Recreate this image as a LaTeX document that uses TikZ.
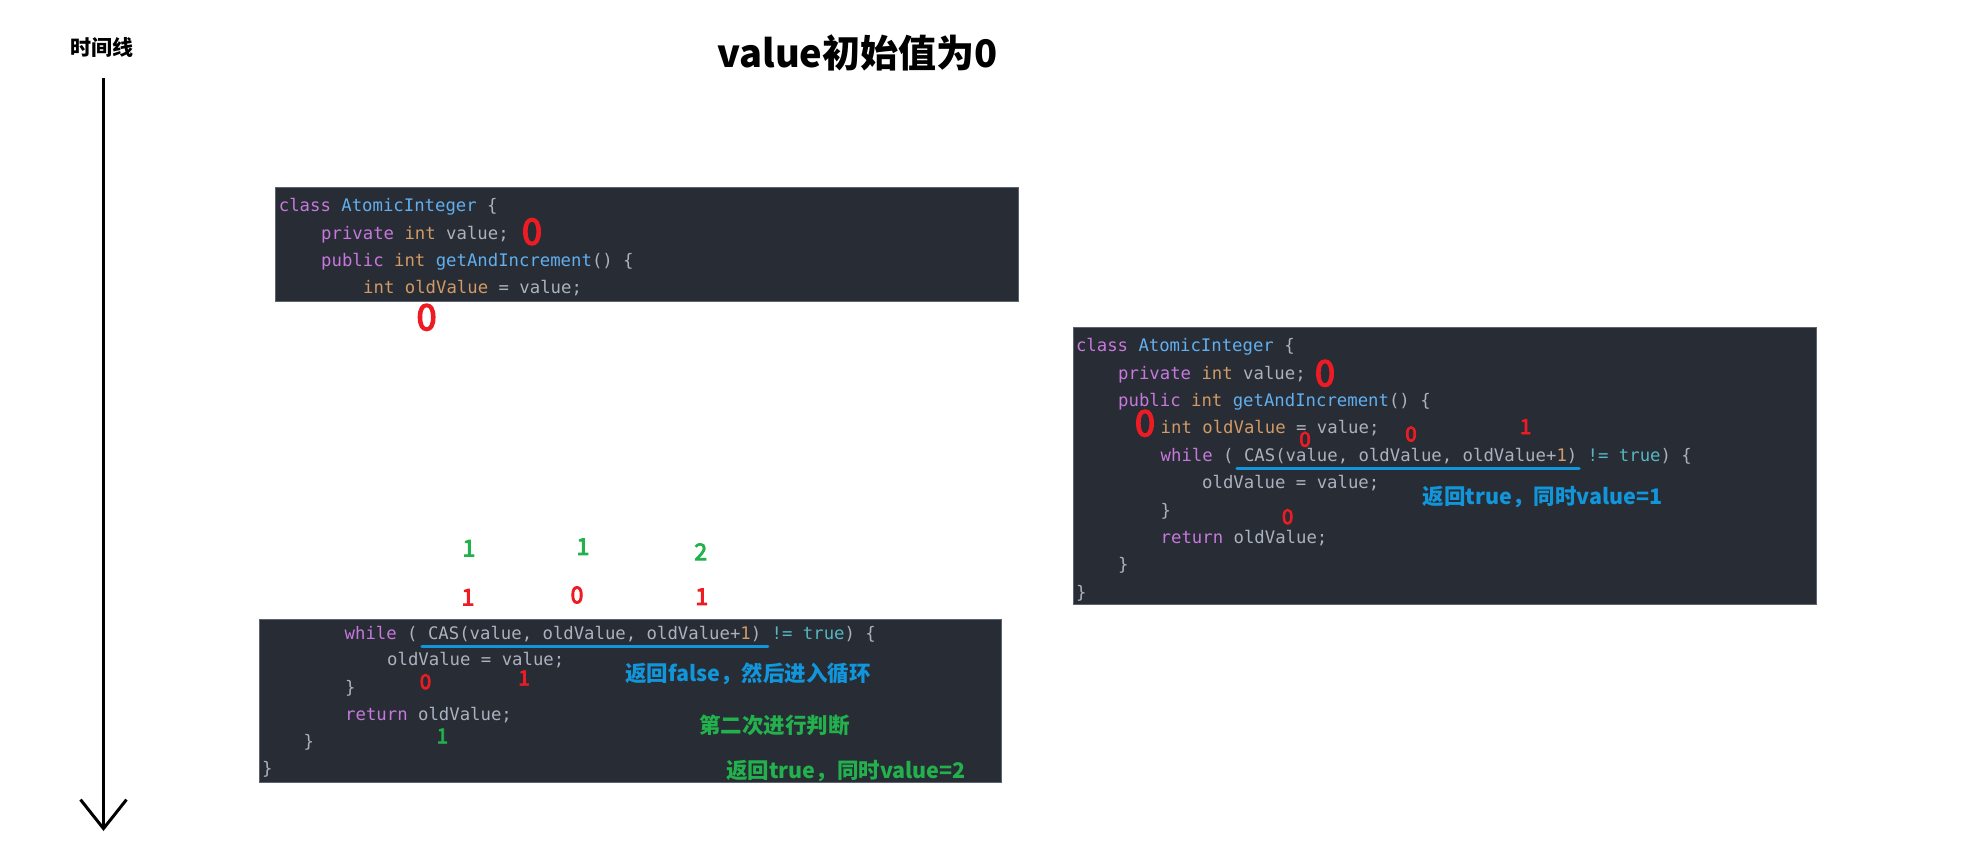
\documentclass[tikz,border=0pt]{standalone}
\usepackage{fontspec}
\usepackage{xcolor}
\usetikzlibrary{arrows.meta, positioning}

\newfontfamily\codefont{DejaVu Sans Mono}
\newfontfamily\cjk{Noto Sans CJK SC}
\newfontfamily\digitfont[FakeBold=4]{Noto Sans CJK SC}

\definecolor{codebg}{HTML}{282C34}
\definecolor{codeedge}{HTML}{5C6370}
\definecolor{codeplain}{HTML}{ABB2BF}
\definecolor{codekw}{HTML}{C678DD}
\definecolor{codetype}{HTML}{D19A66}
\definecolor{codefn}{HTML}{61AFEF}
\definecolor{codelit}{HTML}{56B6C2}
\definecolor{markred}{HTML}{ED1C24}
\definecolor{markgreen}{HTML}{22B14C}
\definecolor{markblue}{HTML}{1296DB}

\newcommand{\ckw}[1]{\textcolor{codekw}{#1}}
\newcommand{\ctype}[1]{\textcolor{codetype}{#1}}
\newcommand{\cfn}[1]{\textcolor{codefn}{#1}}
\newcommand{\clit}[1]{\textcolor{codelit}{#1}}

\begin{document}
\begin{tikzpicture}[x=1pt, y=-1pt,
    codebox/.style={fill=codebg, draw=codeedge, line width=1pt},
    code/.style={anchor=mid west, inner sep=0pt, text=codeplain, yshift=-4.5pt,
                 font=\codefont\fontsize{17.3}{20}\selectfont},
    num/.style={inner sep=0pt, font=\digitfont\fontsize{20.5}{22}\selectfont},
    midnum/.style={inner sep=0pt, font=\digitfont\fontsize{23}{25}\selectfont},
    bignum/.style={inner sep=0pt, text=markred, font=\digitfont\fontsize{36}{40}\selectfont},
    note/.style={inner sep=0pt, font=\cjk\bfseries\fontsize{21.5}{24}\selectfont},
    uline/.style={markblue, line width=3.5pt, line cap=round},
    timearrow/.style={-{Straight Barb[length=29pt, width=46pt]}, line width=3pt}
  ]
  \path[use as bounding box, fill=white] (0,0) rectangle (1987,843);

  % timeline and title
  \node[inner sep=0pt, font=\cjk\bfseries\fontsize{21}{23}\selectfont] (timelabel) at (101.6,47.5) {时间线};
  \coordinate (tstart) at (103.5,78);
  \coordinate (tend) at (103.5,831);
  \draw[timearrow] (tstart) -- (tend);
  \node[inner sep=0pt, font=\cjk\bfseries\fontsize{38}{42}\selectfont] (title) at (857.5,53) {value初始值为0};

  % first read
  \fill[codebox] (275,187.5) rectangle (1018,301.5);
  \node[code] (al1) at (278.7,205) {\ckw{class} \cfn{AtomicInteger} \{};
  \node[code] (al2) at (321,232.7) {\ckw{private} \ctype{int} value;};
  \node[code] (al3) at (321,260) {\ckw{public} \ctype{int} \cfn{getAndIncrement}() \{};
  \node[code] (al4) at (363,287.3) {\ctype{int} \ctype{oldValue} = value;};
  \node[bignum] (av) at (532,231.7) {0};
  \node[bignum] (aold) at (426.6,317.3) {0};

  % other thread
  \fill[codebox] (1073.5,327.5) rectangle (1816.5,604);
  \node[code] (bl1) at (1075.8,345) {\ckw{class} \cfn{AtomicInteger} \{};
  \node[code] (bl2) at (1118,372.7) {\ckw{private} \ctype{int} value;};
  \node[code] (bl3) at (1118,400) {\ckw{public} \ctype{int} \cfn{getAndIncrement}() \{};
  \node[code] (bl4) at (1160.5,427) {\ctype{int} \ctype{oldValue} = value;};
  \node[code] (bl5) at (1160.5,454.7) {\ckw{while} ( CAS(value, oldValue, oldValue+\ctype{1}) \clit{!=} \clit{true}) \{};
  \node[code] (bl6) at (1202,482) {oldValue = value;};
  \node[code] (bl7) at (1160.5,510) {\}};
  \node[code] (bl8) at (1160.5,536.7) {\ckw{return} oldValue;};
  \node[code] (bl9) at (1118,564) {\}};
  \node[code] (bl10) at (1075.8,591.7) {\}};
  \node[bignum] (bv) at (1325,373.3) {0};
  \node[bignum] (bold) at (1145,423.3) {0};
  \node[num, text=markred] (bcas1) at (1305,439.3) {0};
  \node[num, text=markred] (bcas2) at (1411,434) {0};
  \node[num, text=markred] (bcas3) at (1525.6,426.7) {1};
  \node[num, text=markred] (bret) at (1287.6,516.7) {0};
  \draw[uline] (1237,468.3) -- (1579,468.3);
  \node[note, text=markblue] (bnote) at (1542.6,497.3) {返回true，同时value=1};

  % second try
  \fill[codebox] (259,619) rectangle (1001.5,782);
  \node[code] (cl1) at (344.5,632.7) {\ckw{while} ( CAS(value, oldValue, oldValue+\ctype{1}) \clit{!=} \clit{true}) \{};
  \node[code] (cl2) at (387,659.3) {oldValue = value;};
  \node[code] (cl3) at (345,686.7) {\}};
  \node[code] (cl4) at (345,714) {\ckw{return} oldValue;};
  \node[code] (cl5) at (303.5,740.7) {\}};
  \node[code] (cl6) at (262,768.3) {\}};
  \node[midnum, text=markgreen] (cg1) at (469,548.3) {1};
  \node[midnum, text=markgreen] (cg2) at (583,546.7) {1};
  \node[midnum, text=markgreen] (cg3) at (700.8,551.7) {2};
  \node[midnum, text=markred] (cr1) at (468,597.3) {1};
  \node[midnum, text=markred] (cr2) at (577,595) {0};
  \node[midnum, text=markred] (cr3) at (701.8,596.7) {1};
  \draw[uline] (422,646.7) -- (767.7,646.7);
  \node[note, text=markblue] (cnote) at (748,674) {返回false，然后进入循环};
  \node[num, text=markred] (cold) at (425.5,681.7) {0};
  \node[num, text=markred] (cval) at (524,678) {1};
  \node[num, text=markgreen] (cret) at (442.4,736) {1};
  \node[note, text=markgreen] (csecond) at (774.5,725) {第二次进行判断};
  \node[note, text=markgreen] (cdone) at (846,770.7) {返回true，同时value=2};
\end{tikzpicture}
\end{document}
